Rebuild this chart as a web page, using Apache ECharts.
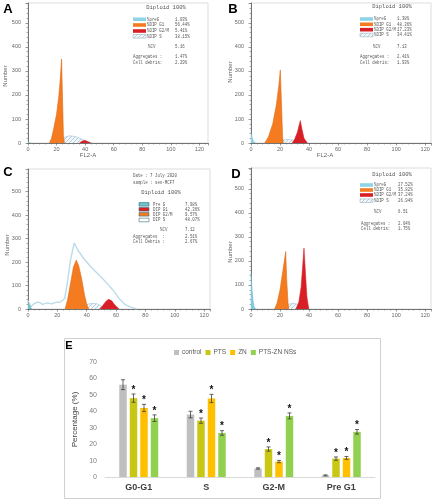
<!DOCTYPE html>
<html><head><meta charset="utf-8">
<script src="https://cdn.jsdelivr.net/npm/echarts@6/dist/echarts.min.js"></script>
<style>html,body{margin:0;padding:0;background:#fff}#c{width:437px;height:500px}</style>
</head><body><div id="c"></div>
<script>
// ===== Histogram data: FL2-A channel (x) and count (y) =====
// Panel A
const aPreX = [0, 1, 2];                 const aPreY = [4, 2, 0];
const aSX = [19, 22, 26, 29, 33, 37, 41, 45];   const aSY = [0, 12, 25, 30, 27, 18, 8, 0];
const aG1X = [15, 16.5, 18, 20, 21.5, 22.5, 23.5, 24.8, 25.5]; const aG1Y = [0, 20, 60, 120, 190, 260, 350, 30, 0];
const aG2X = [36, 38, 40, 42, 44];       const aG2Y = [0, 8, 10, 5, 0];
// Panel B
const bPreX = [0, 0.5, 1.5, 3];          const bPreY = [42, 30, 10, 0];
const bSX = [17, 20, 24, 27, 30, 33];    const bSY = [0, 10, 15, 15, 10, 0];
const bG1X = [9.5, 12, 15, 17.5, 19.2, 20.2, 21.8, 22.3]; const bG1Y = [0, 25, 80, 160, 240, 304, 20, 0];
const bG2X = [28.3, 30, 32, 33, 34, 35, 36.5, 38.8]; const bG2Y = [0, 15, 45, 70, 93, 60, 20, 0];
// Panel C
const cPreX = [0, 1, 2.5];               const cPreY = [31, 15, 0];
const cSX = [33, 36, 40, 44, 47, 50, 53]; const cSY = [0, 12, 20, 24, 22, 12, 0];
const cG1X = [25.3, 27, 29, 31, 32.9, 34.5, 36.5, 38.5, 40, 41.3]; const cG1Y = [0, 40, 110, 180, 208, 185, 130, 60, 20, 0];
const cG2X = [49, 51, 53, 55, 57, 59, 62]; const cG2Y = [0, 15, 32, 41, 35, 18, 0];
const cEnvX = [0, 2, 4, 7, 10, 13, 16, 19, 22, 25, 27, 29, 31.5, 34, 38, 42, 46, 50, 54, 58, 62, 66, 70, 74];
const cEnvY = [35, 10, 22, 30, 20, 26, 22, 28, 30, 45, 120, 210, 281, 250, 215, 185, 160, 135, 108, 80, 45, 20, 8, 0];
// Panel D
const dPreX = [0, 0.5, 1, 1.5, 2, 3];    const dPreY = [148, 100, 60, 30, 12, 0];
const dSX = [19.8, 23, 26, 29, 32, 35, 38]; const dSY = [0, 12, 20, 24, 20, 10, 0];
const dG1X = [16.3, 18, 20, 22, 23.9, 24.6, 25.5, 26]; const dG1Y = [0, 25, 80, 160, 239, 120, 25, 0];
const dG2X = [31, 33, 34.5, 35.5, 36.5, 37.5, 38.5, 39.8]; const dG2Y = [0, 30, 90, 170, 253, 150, 50, 0];

// Histogram axis ticks
const histXTicks = [0, 20, 40, 60, 80, 100, 120];
const histYTicks = [0, 100, 200, 300, 400, 500];

// Legend tables
const abdLabels = ['%preG', '%DIP G1', '%DIP G2/M', '%DIP S'];
const cLabels = ['Pre G', 'DIP G1', 'DIP G2/M', 'DIP S'];
const aValues = ['1.03%', '56.44%', '5.41%', '38.15%'];
const bValues = ['1.38%', '48.36%', '17.23%', '34.41%'];
const cValues = ['7.98%', '42.36%', '9.57%', '48.07%'];
const dValues = ['27.52%', '35.82%', '37.24%', '26.94%'];
const aStats = ['5.16', '1.47%', '2.29%'];
const bStats = ['7.13', '2.41%', '1.93%'];
const cStats = ['7.12', '2.51%', '2.67%'];
const dStats = ['6.51', '2.04%', '1.75%'];

// ===== Panel E data =====
const phases = ['G0-G1', 'S', 'G2-M', 'Pre G1'];
const seriesNames = ['control', 'PTS', 'ZN', 'PTS-ZN NSs'];
const controlVals = [56.2, 38.0, 5.2, 1.0];
const ptsVals = [48.0, 34.3, 17.0, 11.2];
const znVals = [42.0, 47.8, 9.4, 11.6];
const ptsZnVals = [35.8, 26.8, 37.2, 27.5];
const controlErr = [3.0, 2.0, 0.4, 0.3];
const ptsErr = [2.5, 1.6, 1.3, 1.0];
const znErr = [2.2, 2.5, 0.7, 0.9];
const ptsZnErr = [2.0, 1.4, 1.8, 1.4];
const controlSig = [0, 0, 0, 0];
const ptsSig = [1, 1, 1, 1];
const znSig = [1, 1, 1, 1];
const ptsZnSig = [1, 1, 1, 1];

// ===== Styles =====
const COL_PRE = '#8fd3e6', COL_G1 = '#f47b20', COL_G2 = '#d91f26';
const barColors = ['#bfbfbf', '#c8c814', '#ffc000', '#92d050'];
const MONO = '"Liberation Mono","DejaVu Sans Mono",monospace';
const SANS = '"Liberation Sans","DejaVu Sans",sans-serif';

function hatch() {
  const c = document.createElement('canvas'); c.width = 4; c.height = 4;
  const g = c.getContext('2d');
  g.fillStyle = '#f3f7f9'; g.fillRect(0, 0, 4, 4);
  g.strokeStyle = '#9fc4d6'; g.lineWidth = 0.8;
  g.beginPath(); g.moveTo(0, 4); g.lineTo(4, 0); g.stroke();
  return c;
}
const hatchPattern = { image: hatch(), repeat: 'repeat' };

const pairs = (xs, ys) => xs.map((x, i) => [x, ys[i]]);

const histLayout = [
  { left: 28, top: 3, width: 180, height: 140, xmax: 126, ymax: 583 },
  { left: 251, top: 3, width: 180, height: 140, xmax: 124, ymax: 583 },
  { left: 28, top: 169, width: 182, height: 140, xmax: 124, ymax: 596 },
  { left: 251, top: 168, width: 180, height: 141, xmax: 124, ymax: 587 }
];

const grids = [], xAxes = [], yAxes = [], series = [];
histLayout.forEach((L, i) => {
  grids.push({ left: L.left, top: L.top, width: L.width, height: L.height, show: true,
    borderColor: '#d4d4d4', borderWidth: 0.8, backgroundColor: 'transparent' });
  xAxes.push({ type: 'value', gridIndex: i, min: 0, max: L.xmax, interval: 20,
    axisLine: { show: true, onZero: false, lineStyle: { color: '#555', width: 0.8 } },
    axisTick: { show: true, length: 2.5, lineStyle: { color: '#555', width: 0.6 } },
    minorTick: { show: true, splitNumber: 5, length: 1.5, lineStyle: { color: '#666', width: 0.5 } },
    splitLine: { show: false },
    axisLabel: { fontSize: 5.5, color: '#666', margin: 3, fontFamily: SANS,
      formatter: v => histXTicks.indexOf(v) >= 0 ? String(v) : '' } });
  yAxes.push({ type: 'value', gridIndex: i, min: 0, max: L.ymax, interval: 100,
    axisLine: { show: true, onZero: false, lineStyle: { color: '#555', width: 0.8 } },
    axisTick: { show: true, length: 2.5, lineStyle: { color: '#555', width: 0.6 } },
    minorTick: { show: true, splitNumber: 5, length: 1.5, lineStyle: { color: '#666', width: 0.5 } },
    splitLine: { show: false },
    axisLabel: { fontSize: 5.5, color: '#666', margin: 7, fontFamily: SANS,
      formatter: v => histYTicks.indexOf(v) >= 0 ? String(v) : '' } });
});

function area(i, xs, ys, fill, stroke, z) {
  series.push({ type: 'line', xAxisIndex: i, yAxisIndex: i, data: pairs(xs, ys), symbol: 'none',
    smooth: false, silent: true, z: z,
    lineStyle: { color: stroke, width: 0.6 }, areaStyle: { color: fill, opacity: 1 } });
}
// A
area(0, aSX, aSY, hatchPattern, '#9fc4d6', 2);
area(0, aG1X, aG1Y, COL_G1, '#e06a10', 3);
area(0, aG2X, aG2Y, COL_G2, COL_G2, 3);
area(0, aPreX, aPreY, COL_PRE, '#7cc2d6', 3);
// B
area(1, bSX, bSY, hatchPattern, '#9fc4d6', 2);
area(1, bG1X, bG1Y, COL_G1, '#e06a10', 3);
area(1, bG2X, bG2Y, COL_G2, COL_G2, 3);
area(1, bPreX, bPreY, COL_PRE, '#7cc2d6', 3);
// C
series.push({ type: 'line', xAxisIndex: 2, yAxisIndex: 2, data: pairs(cEnvX, cEnvY), symbol: 'none',
  silent: true, z: 1, lineStyle: { color: '#bcdbe9', width: 1.4 } });
area(2, cSX, cSY, hatchPattern, '#9fc4d6', 2);
area(2, cG1X, cG1Y, COL_G1, '#e06a10', 3);
area(2, cG2X, cG2Y, COL_G2, COL_G2, 3);
area(2, cPreX, cPreY, '#6ec3c9', '#5ab0b8', 3);
// D
area(3, dSX, dSY, hatchPattern, '#9fc4d6', 2);
area(3, dG1X, dG1Y, COL_G1, '#e06a10', 3);
area(3, dG2X, dG2Y, COL_G2, COL_G2, 3);
area(3, dPreX, dPreY, '#7ccde3', '#6abbd2', 3);

// ===== Panel E =====
grids.push({ left: 105, top: 362, width: 270, height: 115 });
xAxes.push({ type: 'category', gridIndex: 4, data: phases,
  axisLine: { show: true, lineStyle: { color: '#d9d9d9', width: 1 } }, axisTick: { show: false },
  axisLabel: { fontSize: 9, fontWeight: 'bold', color: '#404040', margin: 6, fontFamily: SANS } });
yAxes.push({ type: 'value', gridIndex: 4, min: 0, max: 70, interval: 10,
  name: 'Percentage (%)', nameLocation: 'middle', nameGap: 15, nameRotate: 90,
  nameTextStyle: { fontSize: 8, color: '#404040', fontFamily: SANS },
  axisLine: { show: false }, axisTick: { show: false }, splitLine: { show: false },
  axisLabel: { fontSize: 7, color: '#7f7f7f', margin: 8, fontFamily: SANS } });

const BAR_W = 7.5, BAR_GAP = 3;
const allVals = [controlVals, ptsVals, znVals, ptsZnVals];
const allErr = [controlErr, ptsErr, znErr, ptsZnErr];
const allSig = [controlSig, ptsSig, znSig, ptsZnSig];
allVals.forEach((vals, k) => {
  series.push({ type: 'bar', name: seriesNames[k], xAxisIndex: 4, yAxisIndex: 4, data: vals,
    barWidth: BAR_W, barGap: '40%', itemStyle: { color: barColors[k] }, z: 2 });
});
allVals.forEach((vals, k) => {
  const offset = -1.5 * (BAR_W + BAR_GAP) + k * (BAR_W + BAR_GAP);
  series.push({ type: 'custom', xAxisIndex: 4, yAxisIndex: 4, silent: true, z: 5,
    data: vals.map((v, j) => [j, v, allErr[k][j], allSig[k][j]]),
    renderItem: (params, api) => {
      const j = api.value(0), v = api.value(1), e = api.value(2), s = api.value(3);
      const x = api.coord([j, v])[0] + offset;
      const yt = api.coord([j, v + e])[1], yb = api.coord([j, v - e])[1];
      const st = { stroke: '#404040', lineWidth: 0.8 };
      const ch = [
        { type: 'line', shape: { x1: x, y1: yt, x2: x, y2: yb }, style: st },
        { type: 'line', shape: { x1: x - 2, y1: yt, x2: x + 2, y2: yt }, style: st },
        { type: 'line', shape: { x1: x - 2, y1: yb, x2: x + 2, y2: yb }, style: st }
      ];
      if (s) ch.push({ type: 'text', style: { text: '*', x: x, y: yt - 4, font: 'bold 10px ' + SANS,
        fill: '#111', align: 'center', verticalAlign: 'middle', textAlign: 'center', textVerticalAlign: 'middle' } });
      return { type: 'group', children: ch };
    } });
});

// ===== Graphic texts =====
const G = [];
function txt(x, y, text, font, fill, align, rot, sx) {
  G.push({ type: 'text', x: x, y: y, rotation: rot || 0, scaleX: sx || 1, silent: true,
    style: { text: text, x: 0, y: 0, font: font, fill: fill || '#555',
      align: align || 'left', textAlign: align || 'left', verticalAlign: 'middle', textVerticalAlign: 'middle' } });
}
function row(x, y, text) { txt(x, y, text, '5.5px ' + MONO, '#555', 'left', 0, 0.74); }
function rect(x, y, w, h, fill, stroke) {
  G.push({ type: 'rect', silent: true, shape: { x: x, y: y, width: w, height: h },
    style: { fill: fill, stroke: stroke || null, lineWidth: 0.6 } });
}
const F = '5.5px ' + MONO;
const swatchFills = [COL_PRE, COL_G1, COL_G2, hatchPattern];
// A
txt(8, 9, 'A', 'bold 13px ' + SANS, '#000', 'center');
txt(166, 8, 'Diploid 100%', F, '#555', 'center');
[19.3, 25, 31, 36.3].forEach((y, r) => {
  rect(133, y - 1.8, 13, 3.6, swatchFills[r], r === 3 ? '#9fb3c0' : null);
  row(147, y, abdLabels[r]); row(175, y, aValues[r]);
});
row(148, 47, '%CV'); row(175, 47, aStats[0]);
row(133, 57, 'Aggregates :'); row(175, 57, aStats[1]);
row(133, 63, 'Cell debris:'); row(175, 63, aStats[2]);
txt(5, 76, 'Number', '6px ' + SANS, '#666', 'center', Math.PI / 2);
txt(88, 155, 'FL2-A', '6px ' + SANS, '#666', 'center');
// B
txt(233, 9, 'B', 'bold 13px ' + SANS, '#000', 'center');
txt(392, 7, 'Diploid 100%', F, '#555', 'center');
[19, 24.3, 29.7, 35].forEach((y, r) => {
  rect(360, y - 1.8, 13, 3.6, swatchFills[r], r === 3 ? '#9fb3c0' : null);
  row(374, y, abdLabels[r]); row(397, y, bValues[r]);
});
row(373, 47, '%CV'); row(397, 47, bStats[0]);
row(360, 57, 'Aggregates :'); row(397, 57, bStats[1]);
row(360, 63, 'Cell debris:'); row(397, 63, bStats[2]);
txt(230, 72, 'Number', '6px ' + SANS, '#666', 'center', Math.PI / 2);
txt(325, 155, 'FL2-A', '6px ' + SANS, '#666', 'center');
// C
txt(8, 172, 'C', 'bold 13px ' + SANS, '#000', 'center');
row(133, 176, 'Date : 7 July 2020');
row(133, 183, 'sample : sen-MCF7');
txt(161, 193, 'Diploid 100%', F, '#555', 'center');
const cSw = ['#6ec3c9', COL_G2, COL_G1, '#ffffff'];
[204.3, 209.3, 214.3, 220].forEach((y, r) => {
  rect(139, y - 1.8, 10, 3.6, cSw[r], '#3a6f80');
  row(153, y, cLabels[r]); row(185, y, cValues[r]);
});
row(160, 230, '%CV'); row(185, 230, cStats[0]);
row(133, 236.5, 'Aggregates  :'); row(185, 236.5, cStats[1]);
row(133, 241.7, 'Cell Debris :'); row(185, 241.7, cStats[2]);
txt(7, 245, 'Number', '6px ' + SANS, '#666', 'center', Math.PI / 2);
// D
txt(236, 174, 'D', 'bold 13px ' + SANS, '#000', 'center');
txt(392, 175, 'Diploid 100%', F, '#555', 'center');
[185, 190, 195, 200.7].forEach((y, r) => {
  rect(360, y - 1.8, 13, 3.6, swatchFills[r], r === 3 ? '#9fb3c0' : null);
  row(374, y, abdLabels[r]); row(398, y, dValues[r]);
});
row(374, 211.7, '%CV'); row(398, 211.7, dStats[0]);
row(361, 223.3, 'Aggregates :'); row(398, 223.3, dStats[1]);
row(361, 228.5, 'Cell debris:'); row(398, 228.5, dStats[2]);
txt(230, 252, 'Number', '6px ' + SANS, '#666', 'center', Math.PI / 2);
// E
G.push({ type: 'rect', silent: true, shape: { x: 64.5, y: 338.5, width: 316, height: 160 },
  style: { fill: 'none', stroke: '#d0d0d0', lineWidth: 1 } });
txt(69, 346, 'E', 'bold 11px ' + SANS, '#000', 'center');

const chart = echarts.init(document.getElementById('c'), null, { renderer: 'canvas' });
chart.setOption({
  animation: false,
  backgroundColor: '#fff',
  grid: grids, xAxis: xAxes, yAxis: yAxes, series: series,
  legend: { data: seriesNames, top: 344, left: 169, itemWidth: 5, itemHeight: 5, itemGap: 4,
    icon: 'rect', textStyle: { fontSize: 6.5, color: '#595959', fontFamily: SANS, padding: [0, 0, 0, -2] } },
  graphic: G
});
</script>
</body></html>
